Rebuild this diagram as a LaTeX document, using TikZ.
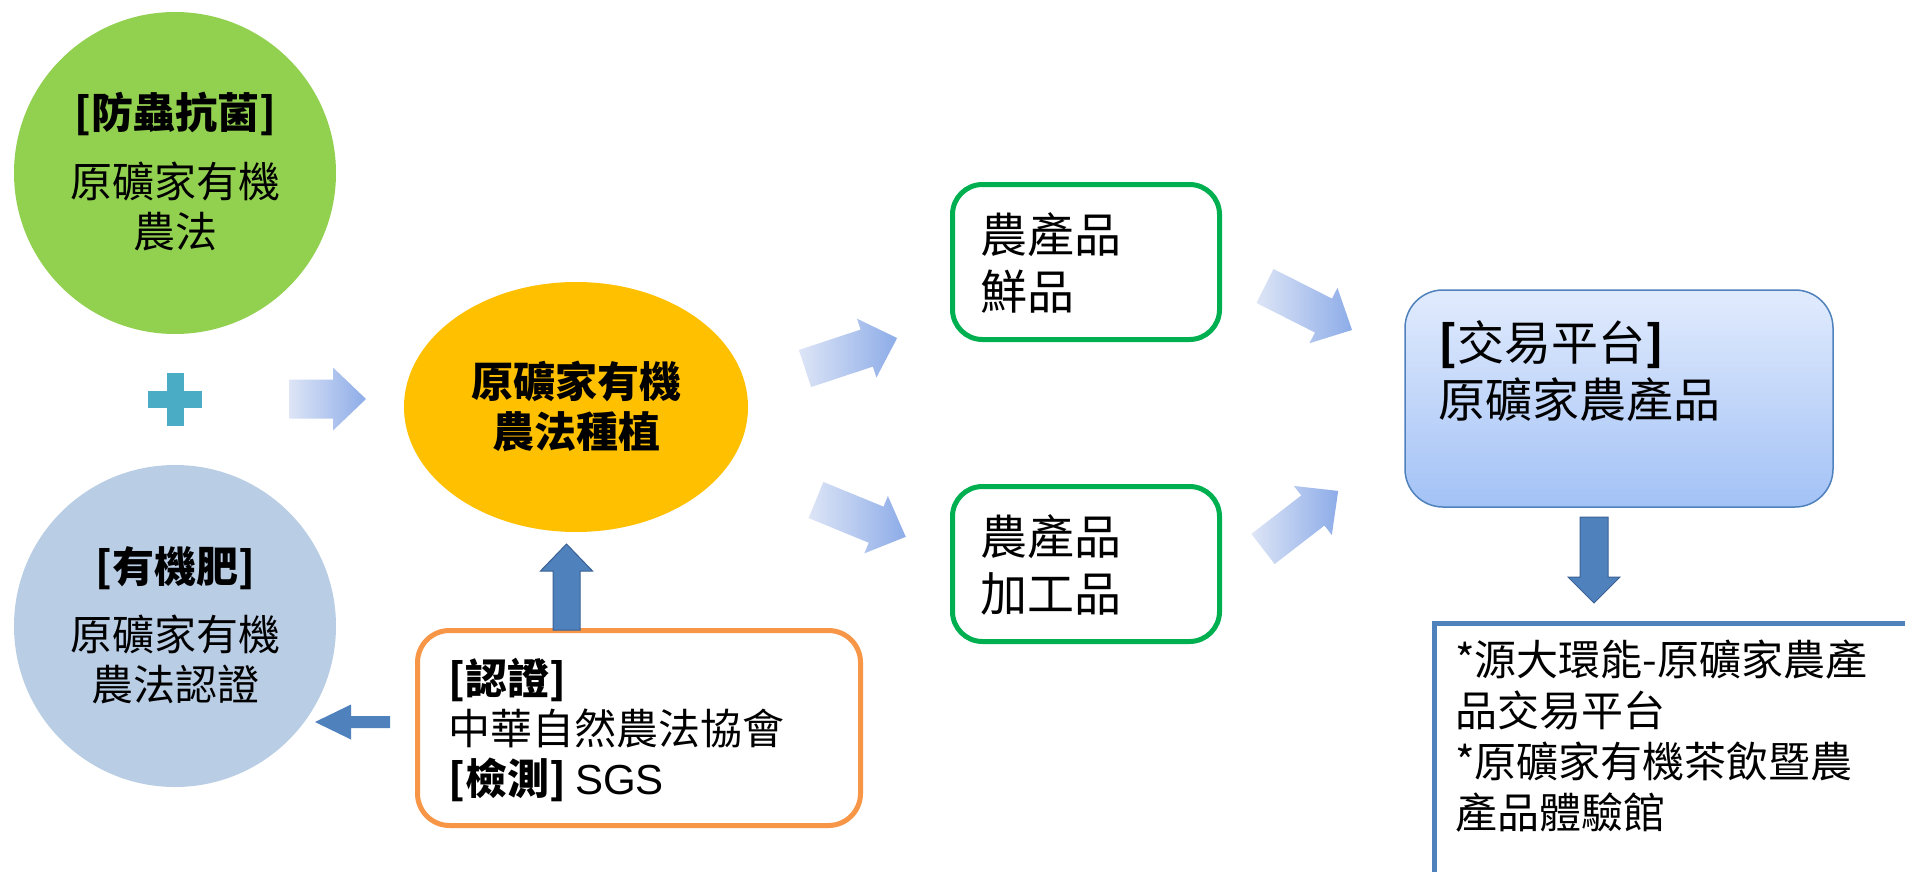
\documentclass[tikz,border=0pt]{standalone}
\usetikzlibrary{shapes.geometric}
\usepackage{fontspec}
\setmainfont{Noto Sans CJK TC}
\newfontfamily\latinfont{Liberation Sans}
\definecolor{grn}{HTML}{92D050}
\definecolor{lblue}{HTML}{B9CDE5}
\definecolor{plusteal}{HTML}{4BACC6}
\definecolor{gold}{HTML}{FFC000}
\definecolor{orng}{HTML}{F79646}
\definecolor{boxgreen}{HTML}{00B050}
\definecolor{steel}{HTML}{4F81BD}
\definecolor{steeldark}{HTML}{3A6193}
\definecolor{arlight}{HTML}{DDE5F6}
\definecolor{ardark}{HTML}{8DACE8}
\definecolor{tlight}{HTML}{E1EBFD}
\definecolor{tdark}{HTML}{A3C2F6}
% style, x, y, screen angle, length, shaft width, head width, head length
\newcommand{\blockarrow}[8]{%
  \path[#1, shift={(#2,#3)}, rotate=-#4]
    (0,{-#6/2}) -- ({#5-#8},{-#6/2}) -- ({#5-#8},{-#7/2}) -- (#5,0)
    -- ({#5-#8},{#7/2}) -- ({#5-#8},{#6/2}) -- (0,{#6/2}) -- cycle;}
\begin{document}
\begin{tikzpicture}[x=1pt,y=-1pt,
  txt/.style={inner sep=0pt, font=\fontsize{42}{50}\selectfont, align=center},
  txtl/.style={inner sep=0pt, font=\fontsize{42}{50}\selectfont, align=left, anchor=west},
  txtbig/.style={inner sep=0pt, font=\fontsize{47}{57}\selectfont, align=left, anchor=west},
  gradarrow/.style={left color=arlight, right color=ardark},
  solidarrow/.style={fill=steel, draw=steeldark, line width=1pt},
  flatarrow/.style={fill=steel},
  greenbox/.style={draw=boxgreen, line width=5pt, rounded corners=30pt, fill=white,
    minimum width=267pt, minimum height=155pt, inner sep=0pt}]
\useasboundingbox (0,0) rectangle (1905,872);
\fill[white] (0,0) rectangle (1905,872);

% circles
\node[circle, fill=grn, minimum size=322pt, inner sep=0pt] (g) at (175,173) {};
\node[txt] (gt) at (175,172) {\textbf{[防蟲抗菌]}\\[19pt]原礦家有機\\農法};
\node[circle, fill=lblue, minimum size=322pt, inner sep=0pt] (b) at (175,626) {};
\node[txt] (bt) at (175,625) {\textbf{[有機肥]}\\[18pt]原礦家有機\\農法認證};

% plus
\fill[plusteal] (148,390.5) rectangle (202,407.5);
\fill[plusteal] (166.5,373) rectangle (183.5,426);

% orange ellipse
\node[ellipse, fill=gold, minimum width=344pt, minimum height=250pt, inner sep=0pt] (o) at (576,407) {};
\node[txt] (ot) at (576,406) {\textbf{原礦家有機}\\\textbf{農法種植}};

% orange box
\node[draw=orng, line width=5pt, rounded corners=32pt, fill=white,
  minimum width=443pt, minimum height=195pt, inner sep=0pt] (ob) at (639,728) {};
\node[txtl] (obt) at (448,729.5) {\textbf{[認證]}\\中華自然農法協會\\\textbf{[檢測]} {\latinfont SGS}};

% green boxes
\node[greenbox] (gb1) at (1086,262) {};
\node[txtbig] (gb1t) at (980,262.5) {農產品\\鮮品};
\node[greenbox] (gb2) at (1086,564) {};
\node[txtbig] (gb2t) at (980,565) {農產品\\加工品};

% top right box
\node[draw=steel, line width=1.5pt, rounded corners=38pt, top color=tlight, bottom color=tdark,
  minimum width=428pt, minimum height=217pt, inner sep=0pt] (tr) at (1619,398.5) {};
\node[txtbig] (trt) at (1438,371.5) {\textbf{[}交易平台\textbf{]}\\原礦家農產品};

% bottom right box (cut by the page edge)
\node[draw=steel, line width=5pt, fill=white, minimum width=527pt, minimum height=309pt,
  inner sep=0pt] (br) at (1698,778) {};
\node[txtl, font=\fontsize{42}{51}\selectfont] (brt) at (1455,736.5)
  {*源大環能-原礦家農產\\品交易平台\\*原礦家有機茶飲暨農\\產品體驗館};

% gradient block arrows
\blockarrow{gradarrow}{289}{399}{0}{77}{39}{63}{33}
\blockarrow{gradarrow}{805}{368.5}{-18.3}{97}{39}{62}{32}
\blockarrow{gradarrow}{816}{500}{22.3}{97}{39}{62}{32}
\blockarrow{gradarrow}{1265}{286}{26.8}{97.5}{38}{62}{32}
\blockarrow{gradarrow}{1263}{549}{-37.7}{95}{38}{62}{32}

% solid arrows
\blockarrow{solidarrow}{566.5}{630}{-90}{86}{27}{52}{27}
\blockarrow{solidarrow}{1594}{517}{90}{86}{28}{52}{26}
\blockarrow{flatarrow}{390}{722}{180}{75}{12}{35}{36}
\end{tikzpicture}
\end{document}
